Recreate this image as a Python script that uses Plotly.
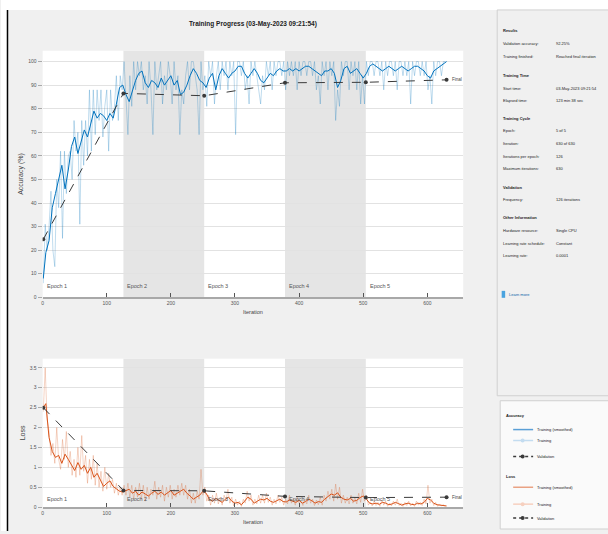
import plotly.graph_objects as go

# ---------------- data ----------------
ITER_SMOOTH = [1] + list(range(5, 631, 5))
ACC_SMOOTH = [
    8, 19, 24, 38, 44, 50, 56, 46, 54, 64, 68, 61, 66, 71, 68, 74, 79, 76, 78, 77,
    75, 78, 76, 82, 89, 90, 86, 83, 88, 92, 95, 96, 91, 89, 92, 91, 89, 93, 90, 92,
    94, 90, 92, 86, 87, 90, 94, 97, 95, 92, 91, 89, 93, 95, 88, 94, 97, 95, 93, 95,
    96, 98, 98, 95, 93, 95, 97, 95, 92, 91, 93, 95, 94, 96, 97, 96, 96, 97, 96, 97,
    96, 97, 98, 98, 97, 96, 95, 94, 96, 96, 97, 95, 89, 92, 97, 98, 95, 96, 97, 95,
    93, 95, 98, 99, 98, 97, 96, 97, 98, 97, 96, 97, 98, 97, 96, 97, 98, 98, 97, 96,
    94, 93, 96, 97, 98, 99, 100]
LOSS_SMOOTH = [
    2.5, 2.6, 1.75, 1.4, 1.25, 1.3, 1.1, 1.33, 1.2, 1.05, 0.92, 1.12, 0.95, 1.05, 0.85, 1.0,
    0.75, 0.85, 0.68, 0.52, 0.6, 0.66, 0.52, 0.46, 0.4, 0.38, 0.42, 0.45, 0.35, 0.4, 0.3,
    0.38, 0.33, 0.28, 0.35, 0.4, 0.32, 0.38, 0.3, 0.35, 0.42, 0.3, 0.36, 0.4, 0.45, 0.35,
    0.28, 0.2, 0.25, 0.3, 0.4, 0.35, 0.2, 0.15, 0.22, 0.18, 0.12, 0.2, 0.25, 0.15, 0.1,
    0.12, 0.06, 0.15, 0.25, 0.2, 0.1, 0.15, 0.2, 0.18, 0.22, 0.15, 0.12, 0.16, 0.2, 0.14,
    0.13, 0.18, 0.15, 0.12, 0.17, 0.1, 0.14, 0.2, 0.16, 0.1, 0.14, 0.12, 0.2, 0.26, 0.33,
    0.3, 0.36, 0.25, 0.2, 0.18, 0.22, 0.15, 0.17, 0.24, 0.28, 0.2, 0.1, 0.08, 0.1, 0.07,
    0.12, 0.1, 0.06, 0.08, 0.12, 0.09, 0.05, 0.08, 0.1, 0.07, 0.06, 0.1, 0.08, 0.12, 0.22,
    0.18, 0.1, 0.06, 0.05, 0.04, 0.03]

ITER_RAW = list(range(1, 629, 3))
ACC_RAW = [
    6, 31, 20, 30, 45, 20, 13, 50, 38, 62,
    25, 62, 44, 60, 62, 50, 75, 62, 70, 31,
    75, 56, 75, 60, 88, 62, 88, 69, 88, 75,
    88, 68, 81, 88, 62, 88, 75, 81, 94, 75,
    94, 88, 100, 82, 69, 94, 81, 100, 88, 100,
    94, 100, 88, 94, 82, 100, 88, 69, 100, 88,
    94, 100, 82, 94, 88, 100, 94, 82, 100, 88,
    94, 69, 88, 82, 94, 100, 88, 100, 100, 94,
    88, 69, 100, 88, 94, 81, 100, 94, 100, 82,
    94, 100, 88, 100, 94, 100, 88, 100, 94, 100,
    69, 100, 100, 94, 100, 88, 94, 82, 100, 94,
    100, 94, 88, 82, 94, 88, 100, 94, 100, 88,
    100, 94, 100, 100, 94, 100, 88, 100, 94, 100,
    94, 100, 88, 100, 94, 100, 100, 94, 100, 100,
    94, 100, 88, 94, 82, 100, 94, 100, 88, 100,
    94, 100, 75, 88, 81, 100, 94, 100, 100, 88,
    100, 94, 100, 88, 100, 82, 94, 82, 100, 94,
    100, 100, 94, 100, 100, 94, 100, 88, 100, 94,
    100, 100, 94, 100, 88, 100, 100, 94, 100, 94,
    100, 82, 100, 94, 100, 100, 94, 100, 94, 100,
    88, 94, 82, 100, 94, 100, 100, 94, 100, 100]
LOSS_RAW = [
    2.4, 3.5, 2.2, 1.9, 1.3, 1.6, 1.1, 2.0, 1.2, 0.95,
    1.7, 1.2, 1.9, 1.0, 1.4, 0.8, 1.2, 0.75, 1.5, 0.8,
    1.8, 0.9, 1.3, 0.6, 1.2, 0.7, 1.3, 0.55, 1.1, 0.5,
    0.9, 0.4, 1.0, 0.45, 0.85, 0.5, 0.7, 0.35, 0.6, 0.3,
    0.5, 0.3, 0.55, 0.3, 0.6, 0.25, 0.55, 0.2, 0.5, 0.25,
    0.6, 0.2, 0.55, 0.15, 0.5, 0.2, 0.45, 0.3, 0.65, 0.2,
    0.5, 0.25, 0.55, 0.15, 0.5, 0.25, 0.55, 0.2, 0.45, 0.25,
    0.55, 0.3, 0.6, 0.3, 0.55, 0.2, 0.45, 0.1, 0.35, 0.1,
    0.4, 0.2, 0.95, 0.3, 0.5, 0.15, 0.3, 0.05, 0.3, 0.1,
    0.35, 0.08, 0.25, 0.05, 0.3, 0.15, 0.45, 0.1, 0.25, 0.03,
    0.2, 0.05, 0.15, 0.02, 0.2, 0.1, 0.4, 0.15, 0.3, 0.05,
    0.2, 0.08, 0.3, 0.1, 0.3, 0.1, 0.35, 0.12, 0.25, 0.05,
    0.2, 0.08, 0.3, 0.12, 0.25, 0.05, 0.2, 0.08, 0.3, 0.1,
    0.2, 0.05, 0.25, 0.1, 0.15, 0.04, 0.2, 0.08, 0.3, 0.1,
    0.2, 0.04, 0.18, 0.06, 0.25, 0.05, 0.3, 0.15, 0.4, 0.2,
    0.45, 0.15, 0.58, 0.2, 0.5, 0.1, 0.3, 0.1, 0.25, 0.08,
    0.3, 0.1, 0.25, 0.08, 0.35, 0.12, 0.45, 0.15, 0.3, 0.05,
    0.12, 0.03, 0.15, 0.04, 0.12, 0.02, 0.18, 0.05, 0.15, 0.02,
    0.1, 0.03, 0.15, 0.05, 0.2, 0.04, 0.1, 0.02, 0.12, 0.04,
    0.15, 0.03, 0.1, 0.02, 0.15, 0.05, 0.12, 0.04, 0.2, 0.08,
    0.55, 0.1, 0.2, 0.04, 0.12, 0.02, 0.08, 0.03, 0.06, 0.02]

VAL_ITER = [1, 126, 252, 378, 504, 630]
VAL_ACC = [24.6, 86.5, 85.5, 91.0, 91.2, 92.25]
VAL_LOSS = [2.5, 0.42, 0.41, 0.27, 0.24, 0.25]

EPOCH_START = [0, 126, 252, 378, 504]
EPOCH_LABELS = ["Epoch 1", "Epoch 2", "Epoch 3", "Epoch 4", "Epoch 5"]
X_TICKS = [0, 100, 200, 300, 400, 500, 600]
ACC_TICKS = [0, 10, 20, 30, 40, 50, 60, 70, 80, 90, 100]
LOSS_TICKS = [0, 0.5, 1, 1.5, 2, 2.5, 3, 3.5]
LOSS_TICK_TEXT = ["0", "0.5", "1", "1.5", "2", "2.5", "3", "3.5"]

TITLE = "Training Progress (03-May-2023 09:21:54)"
INFO = [
    ("Results", None, True),
    ("Validation accuracy:", "92.25%", False),
    ("Training finished:", "Reached final iteration", False),
    ("Training Time", None, True),
    ("Start time:", "03-May-2023 09:21:54", False),
    ("Elapsed time:", "123 min 38 sec", False),
    ("Training Cycle", None, True),
    ("Epoch:", "5 of 5", False),
    ("Iteration:", "630 of 630", False),
    ("Iterations per epoch:", "126", False),
    ("Maximum iterations:", "630", False),
    ("Validation", None, True),
    ("Frequency:", "126 iterations", False),
    ("Other Information", None, True),
    ("Hardware resource:", "Single CPU", False),
    ("Learning rate schedule:", "Constant", False),
    ("Learning rate:", "0.0001", False),
]
INFO_Y = [31, 44, 57, 76, 89, 101, 119, 131, 144, 157, 169, 189, 201, 219, 232, 245, 257]

# ---------------- styling ----------------
W, H = 608, 534
FONT = "Liberation Sans Narrow, Liberation Sans, Arial, sans-serif"
BLUE = "#0072BD"
BLUE_LIGHT = "rgba(0,114,189,0.25)"
ORANGE = "#D95319"
ORANGE_LIGHT = "rgba(217,83,25,0.25)"
VALC = "#3a3a3a"
SMALL = 4


def px(x):
    return x / W


def py(y):
    return 1 - y / H


fig = go.Figure()

# accuracy
fig.add_trace(go.Scatter(x=ITER_RAW, y=ACC_RAW, mode="lines", line=dict(color=BLUE_LIGHT, width=1),
                         xaxis="x", yaxis="y", hoverinfo="skip"))
fig.add_trace(go.Scatter(x=ITER_SMOOTH, y=ACC_SMOOTH, mode="lines", line=dict(color=BLUE, width=1),
                         xaxis="x", yaxis="y"))
fig.add_trace(go.Scatter(x=VAL_ITER, y=VAL_ACC, mode="lines+markers",
                         line=dict(color=VALC, width=1, dash="dash"),
                         marker=dict(color=VALC, size=4), xaxis="x", yaxis="y"))
# loss
fig.add_trace(go.Scatter(x=ITER_RAW, y=LOSS_RAW, mode="lines", line=dict(color=ORANGE_LIGHT, width=1),
                         xaxis="x2", yaxis="y2", hoverinfo="skip"))
fig.add_trace(go.Scatter(x=ITER_SMOOTH, y=LOSS_SMOOTH, mode="lines", line=dict(color=ORANGE, width=1),
                         xaxis="x2", yaxis="y2"))
fig.add_trace(go.Scatter(x=VAL_ITER, y=VAL_LOSS, mode="lines+markers",
                         line=dict(color=VALC, width=1, dash="dash"),
                         marker=dict(color=VALC, size=4), xaxis="x2", yaxis="y2"))

X_DOMAIN = [px(41.7), px(463)]
axis_common = dict(range=[0, 656], tickvals=X_TICKS, ticks="inside", ticklen=4, tickcolor="#555",
                   showgrid=False, showline=True, linecolor="#a8a8a8", linewidth=2, zeroline=False,
                   tickfont=dict(size=5, color="#555", family=FONT), domain=X_DOMAIN,
                   title=dict(text="Iteration", font=dict(size=5.5, color="#444", family=FONT), standoff=5))

shapes = []
annotations = []

# epoch shading & labels
for ax, yax, ylab in (("x", "y", 4.6), ("x2", "y2", 0.2)):
    for i, s in enumerate(EPOCH_START):
        e = s + 126
        if i % 2 == 1:
            shapes.append(dict(type="rect", xref=ax, yref=yax + " domain", x0=s, x1=e, y0=0, y1=1,
                               fillcolor="#e5e5e5", line=dict(width=0), layer="below"))
        annotations.append(dict(x=s + 3, y=ylab, xref=ax, yref=yax, text=EPOCH_LABELS[i],
                                showarrow=False, xanchor="left", yanchor="middle",
                                font=dict(size=5.5, color="#555", family=FONT)))

annotations.append(dict(x=VAL_ITER[-1] + 5, y=VAL_ACC[-1], xref="x", yref="y", text="Final",
                        showarrow=False, xanchor="left", font=dict(size=4.5, color="#444", family=FONT)))
annotations.append(dict(x=VAL_ITER[-1] + 5, y=VAL_LOSS[-1], xref="x2", yref="y2", text="Final",
                        showarrow=False, xanchor="left", font=dict(size=4.5, color="#444", family=FONT)))

# background decorations
shapes.append(dict(type="rect", xref="paper", yref="paper", x0=0, x1=1, y0=py(10), y1=1,
                   fillcolor="white", line=dict(width=0), layer="below"))
shapes.append(dict(type="rect", xref="paper", yref="paper", x0=0, x1=px(6), y0=0, y1=py(10),
                   fillcolor="white", line=dict(width=0), layer="below"))
shapes.append(dict(type="line", xref="paper", yref="paper", x0=px(6.5), x1=px(6.5), y0=0, y1=py(10),
                   line=dict(color="black", width=1.5)))
# info panel
shapes.append(dict(type="rect", xref="paper", yref="paper", x0=px(497), x1=px(612), y0=py(398), y1=py(10),
                   fillcolor="#f0f0f0", line=dict(color="#d0d0d0", width=1), layer="below"))
# legend panel
shapes.append(dict(type="rect", xref="paper", yref="paper", x0=px(500), x1=px(612), y0=py(532), y1=py(403),
                   fillcolor="#fafafa", line=dict(color="#d0d0d0", width=1), layer="below"))

annotations.append(dict(x=px(252), y=py(18), xref="paper", yref="paper", text="<b>" + TITLE + "</b>",
                        showarrow=False, font=dict(size=6.5, color="#222", family=FONT)))

for (lab, val, bold), yy in zip(INFO, INFO_Y):
    t = "<b>" + lab + "</b>" if bold else lab
    annotations.append(dict(x=px(501), y=py(yy), xref="paper", yref="paper", text=t, showarrow=False,
                            xanchor="left", yanchor="middle", font=dict(size=SMALL, color="#222", family=FONT)))
    if val:
        annotations.append(dict(x=px(554), y=py(yy), xref="paper", yref="paper", text=val, showarrow=False,
                                xanchor="left", yanchor="middle",
                                font=dict(size=SMALL, color="#222", family=FONT)))

# learn more
shapes.append(dict(type="rect", xref="paper", yref="paper", x0=px(501.5), x1=px(505), y0=py(299.5), y1=py(292.5),
                   fillcolor="#4aa3df", line=dict(width=0)))
annotations.append(dict(x=px(507), y=py(296), xref="paper", yref="paper", text="Learn more", showarrow=False,
                        xanchor="left", yanchor="middle", font=dict(size=SMALL, color="#0b62a8", family=FONT)))

# legend entries
LEG = [
    ("<b>Accuracy</b>", 418, None),
    ("Training (smoothed)", 432, ("solid", "#5a9fd6", False)),
    ("Training", 443, ("solid", "#c3dcf0", True)),
    ("Validation", 459, ("dash", VALC, True)),
    ("<b>Loss</b>", 479, None),
    ("Training (smoothed)", 490, ("solid", "#e9a283", False)),
    ("Training", 507, ("solid", "#f6d0bf", True)),
    ("Validation", 521, ("dash", VALC, True)),
]
for txt, yy, sty in LEG:
    if sty is None:
        annotations.append(dict(x=px(504), y=py(yy), xref="paper", yref="paper", text=txt, showarrow=False,
                                xanchor="left", yanchor="middle", font=dict(size=SMALL, color="#222", family=FONT)))
        continue
    dash, col, mk = sty
    shapes.append(dict(type="line", xref="paper", yref="paper", x0=px(513), x1=px(533), y0=py(yy), y1=py(yy),
                       line=dict(color=col, width=1.5, dash="dot" if dash == "dash" else "solid")))
    if mk:
        shapes.append(dict(type="circle", xref="paper", yref="paper", x0=px(520.5), x1=px(524.5),
                           y0=py(yy + 2), y1=py(yy - 2), fillcolor=col, line=dict(width=0)))
    annotations.append(dict(x=px(535), y=py(yy), xref="paper", yref="paper", text=txt, showarrow=False,
                            xanchor="left", yanchor="middle", font=dict(size=SMALL, color="#222", family=FONT)))

fig.update_layout(
    width=W, height=H, margin=dict(l=0, r=0, t=0, b=0),
    paper_bgcolor="#f0f0f0", plot_bgcolor="white", showlegend=False, hovermode=False,
    xaxis=dict(axis_common, anchor="y"),
    yaxis=dict(domain=[py(299), py(51)], range=[0, 104.6], tickvals=ACC_TICKS, ticks="outside", ticklen=4,
               tickcolor="#aaa", showgrid=True, gridcolor="#e2e2e2", zeroline=False, showline=False,
               tickfont=dict(size=5, color="#555", family=FONT),
               title=dict(text="Accuracy (%)", font=dict(size=7, color="#444", family=FONT), standoff=3)),
    xaxis2=dict(axis_common, anchor="y2"),
    yaxis2=dict(domain=[py(510), py(360.7)], range=[0, 3.73], tickvals=LOSS_TICKS, ticktext=LOSS_TICK_TEXT,
                ticks="outside", ticklen=4, tickcolor="#aaa", showgrid=True, gridcolor="#e2e2e2",
                zeroline=False, showline=False, tickfont=dict(size=5, color="#555", family=FONT),
                title=dict(text="Loss", font=dict(size=7, color="#444", family=FONT), standoff=3)),
    shapes=shapes, annotations=annotations,
)

fig.write_html("out.html", config={"displayModeBar": False},
               post_script="document.body.style.margin='0';document.body.style.overflow='hidden';")
